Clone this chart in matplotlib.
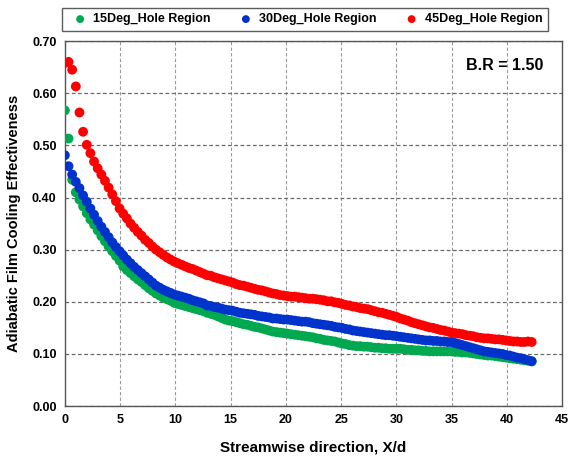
import matplotlib
matplotlib.use("Agg")
import matplotlib.pyplot as plt

plt.rcParams['font.family'] = ['Liberation Sans', 'DejaVu Sans']
plt.rcParams['font.weight'] = 'bold'

# streamwise measurement stations, X/d
x_d = [0.00, 0.33, 0.66, 0.99, 1.32, 1.65, 1.98, 2.31, 2.64, 2.97,
       3.30, 3.63, 3.96, 4.29, 4.62, 4.95, 5.28, 5.61, 5.94, 6.27,
       6.60, 6.93, 7.26, 7.59, 7.92, 8.25, 8.58, 8.91, 9.24, 9.57,
       9.90, 10.23, 10.56, 10.89, 11.22, 11.55, 11.88, 12.21, 12.54, 12.87,
       13.20, 13.53, 13.86, 14.19, 14.52, 14.85, 15.18, 15.51, 15.84, 16.17,
       16.50, 16.83, 17.16, 17.49, 17.82, 18.15, 18.48, 18.81, 19.14, 19.47,
       19.80, 20.13, 20.46, 20.79, 21.12, 21.45, 21.78, 22.11, 22.44, 22.77,
       23.10, 23.43, 23.76, 24.09, 24.42, 24.75, 25.08, 25.41, 25.74, 26.07,
       26.40, 26.73, 27.06, 27.39, 27.72, 28.05, 28.38, 28.71, 29.04, 29.37,
       29.70, 30.03, 30.36, 30.69, 31.02, 31.35, 31.68, 32.01, 32.34, 32.67,
       33.00, 33.33, 33.66, 33.99, 34.32, 34.65, 34.98, 35.31, 35.64, 35.97,
       36.30, 36.63, 36.96, 37.29, 37.62, 37.95, 38.28, 38.61, 38.94, 39.27,
       39.60, 39.93, 40.26, 40.59, 40.92, 41.25, 41.58, 41.91, 42.24]

eff_15 = [0.567, 0.513, 0.434, 0.410, 0.396, 0.383, 0.370, 0.358, 0.348, 0.337,
          0.326, 0.316, 0.306, 0.297, 0.288, 0.279, 0.268, 0.261, 0.255, 0.249,
          0.243, 0.238, 0.232, 0.226, 0.221, 0.216, 0.212, 0.208, 0.205, 0.202,
          0.198, 0.196, 0.194, 0.192, 0.190, 0.188, 0.186, 0.184, 0.182, 0.179,
          0.177, 0.175, 0.172, 0.169, 0.166, 0.164, 0.163, 0.161, 0.159, 0.157,
          0.156, 0.154, 0.152, 0.151, 0.149, 0.147, 0.145, 0.143, 0.142, 0.141,
          0.140, 0.139, 0.138, 0.137, 0.136, 0.135, 0.134, 0.133, 0.132, 0.130,
          0.129, 0.127, 0.126, 0.125, 0.124, 0.122, 0.120, 0.119, 0.117, 0.116,
          0.115, 0.115, 0.114, 0.114, 0.113, 0.112, 0.112, 0.111, 0.111, 0.110,
          0.110, 0.110, 0.110, 0.109, 0.108, 0.108, 0.107, 0.107, 0.106, 0.106,
          0.105, 0.105, 0.105, 0.105, 0.105, 0.105, 0.105, 0.104, 0.104, 0.103,
          0.103, 0.102, 0.101, 0.100, 0.099, 0.098, 0.097, 0.097, 0.096, 0.095,
          0.094, 0.093, 0.092, 0.091, 0.090, 0.089, 0.088, 0.087, 0.086]

eff_30 = [0.481, 0.460, 0.444, 0.430, 0.418, 0.404, 0.392, 0.379, 0.367, 0.355,
          0.344, 0.334, 0.324, 0.314, 0.305, 0.297, 0.289, 0.281, 0.274, 0.267,
          0.261, 0.255, 0.249, 0.243, 0.237, 0.231, 0.227, 0.223, 0.220, 0.217,
          0.214, 0.212, 0.210, 0.208, 0.206, 0.203, 0.201, 0.199, 0.197, 0.193,
          0.192, 0.190, 0.189, 0.187, 0.185, 0.184, 0.183, 0.181, 0.179, 0.178,
          0.177, 0.176, 0.175, 0.173, 0.172, 0.171, 0.170, 0.168, 0.168, 0.167,
          0.166, 0.166, 0.165, 0.164, 0.163, 0.162, 0.162, 0.161, 0.159, 0.158,
          0.157, 0.156, 0.155, 0.154, 0.152, 0.151, 0.150, 0.148, 0.147, 0.145,
          0.144, 0.143, 0.142, 0.141, 0.140, 0.139, 0.138, 0.137, 0.136, 0.136,
          0.135, 0.134, 0.133, 0.132, 0.131, 0.130, 0.129, 0.128, 0.127, 0.126,
          0.126, 0.125, 0.125, 0.124, 0.124, 0.123, 0.123, 0.121, 0.119, 0.117,
          0.115, 0.113, 0.111, 0.109, 0.107, 0.105, 0.104, 0.103, 0.102, 0.101,
          0.100, 0.098, 0.097, 0.095, 0.093, 0.092, 0.090, 0.088, 0.086]

eff_45 = [0.658, 0.660, 0.645, 0.613, 0.563, 0.526, 0.501, 0.485, 0.469, 0.456,
          0.444, 0.432, 0.419, 0.406, 0.393, 0.379, 0.369, 0.360, 0.350, 0.342,
          0.334, 0.327, 0.319, 0.313, 0.306, 0.300, 0.295, 0.290, 0.285, 0.281,
          0.277, 0.274, 0.271, 0.268, 0.265, 0.263, 0.260, 0.257, 0.254, 0.251,
          0.250, 0.247, 0.245, 0.243, 0.241, 0.239, 0.237, 0.234, 0.232, 0.231,
          0.229, 0.227, 0.225, 0.223, 0.222, 0.220, 0.218, 0.216, 0.215, 0.213,
          0.212, 0.211, 0.210, 0.210, 0.209, 0.208, 0.207, 0.206, 0.206, 0.205,
          0.204, 0.203, 0.201, 0.201, 0.199, 0.198, 0.196, 0.194, 0.193, 0.191,
          0.190, 0.188, 0.187, 0.186, 0.184, 0.182, 0.180, 0.179, 0.177, 0.175,
          0.173, 0.171, 0.168, 0.166, 0.164, 0.161, 0.159, 0.157, 0.155, 0.153,
          0.151, 0.150, 0.148, 0.146, 0.145, 0.143, 0.141, 0.140, 0.139, 0.138,
          0.136, 0.135, 0.134, 0.132, 0.131, 0.130, 0.130, 0.129, 0.128, 0.128,
          0.127, 0.126, 0.125, 0.124, 0.124, 0.123, 0.123, 0.124, 0.123]

labels = ['15Deg_Hole Region', '30Deg_Hole Region', '45Deg_Hole Region']
colors = ['#00A850', '#0033CC', '#FF0000']
x_ticks = [0, 5, 10, 15, 20, 25, 30, 35, 40, 45]
y_ticks = [0.0, 0.1, 0.2, 0.3, 0.4, 0.5, 0.6, 0.7]

fig = plt.figure(figsize=(5.69, 4.61), dpi=100)
ax = fig.add_axes([0.114, 0.119, 0.874, 0.792])

for y, lab, c in zip([eff_15, eff_30, eff_45], labels, colors):
    ax.scatter(x_d, y, s=50, color=c, edgecolors='none', label=lab, zorder=3)

ax.set_xlim(0, 45)
ax.set_ylim(0, 0.7)
ax.set_xticks(x_ticks)
ax.set_yticks(y_ticks)
ax.set_yticklabels(['%.2f' % v for v in y_ticks])
ax.tick_params(length=0, labelsize=9, pad=6)
for lbl in ax.get_xticklabels() + ax.get_yticklabels():
    lbl.set_fontweight('bold')

ax.xaxis.grid(True, color='#9A9A9A', linestyle=(0, (3, 2)), linewidth=0.8)
ax.yaxis.grid(True, color='#6A6A6A', linestyle=(0, (3, 2)), linewidth=0.9)
ax.set_axisbelow(True)
for sp in ax.spines.values():
    sp.set_color('#555555')
    sp.set_linewidth(1.0)

ax.set_xlabel('Streamwise direction, X/d', fontsize=11, fontweight='bold', labelpad=10)
ax.set_ylabel('Adiabatic Film Cooling Effectiveness', fontsize=10.5, fontweight='bold', labelpad=8)

ax.text(0.962, 0.934, 'B.R = 1.50', transform=ax.transAxes, ha='right', va='center',
        fontsize=11.5, fontweight='bold')

fig.legend(loc='lower left', bbox_to_anchor=(62 / 569, 1 - 31 / 461, 486 / 569, 26 / 461),
           mode='expand', ncol=3, frameon=True, fancybox=False, edgecolor='#333333',
           prop={'weight': 'bold', 'size': 9}, handletextpad=0.05, borderaxespad=0,
           columnspacing=0.5, markerscale=0.8, borderpad=0.45)

fig.savefig('out.png', dpi=100)
